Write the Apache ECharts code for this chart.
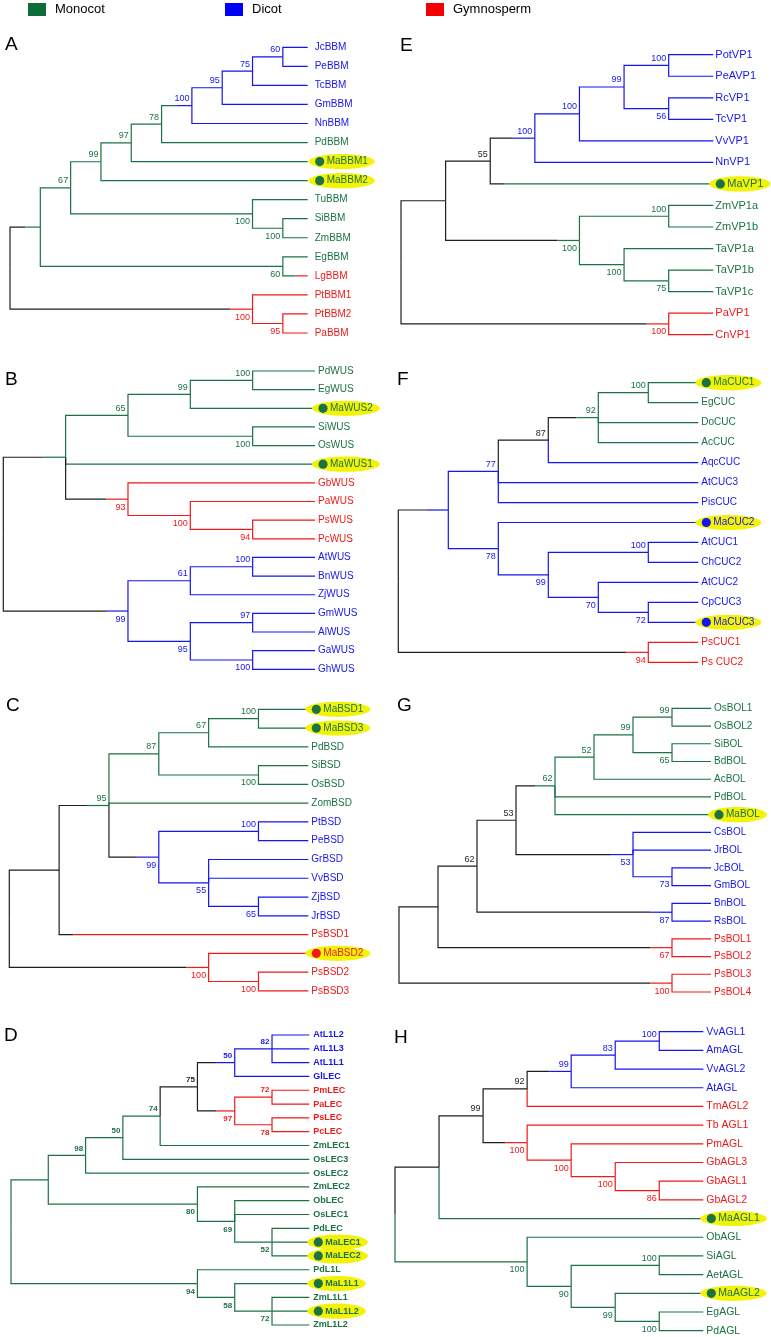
<!DOCTYPE html>
<html><head><meta charset="utf-8">
<script src="https://cdn.jsdelivr.net/npm/echarts@6/dist/echarts.min.js"></script>
<style>html,body{margin:0;padding:0;background:#fff}#c{width:771px;height:1337px}</style>
</head><body><div id="c"></div>
<script>
// ---------------- DATA ----------------
// Legend groups
const groupNames = ['Monocot', 'Dicot', 'Gymnosperm'];
// Panel letters (order: A, E, B, F, C, G, D, H)
const panelLetters = ['A', 'E', 'B', 'F', 'C', 'G', 'D', 'H'];
// Trees: "(children)|<group><bootstrap><v=label below>:<node level>[^<parent-side group>]"
// leaves: "Name|<group>[*=highlighted][^<parent-side group>]"; g=monocot b=dicot r=gymnosperm k=unassigned
const treeA = "((((((((((JcBBM|b,PeBBM|b)|b60:9,TcBBM|b)|b75:8,GmBBM|b)|b95:7,NnBBM|b)|b100:6,PdBBM|g)|g78:5,MaBBM1|g*)|g97:4,MaBBM2|g*)|g99:3,(TuBBM|g,(SiBBM|g,ZmBBM|g)|g100v:9)|g100v:8)|g67:2,(EgBBM|g,LgBBM|r)|g60v:9)|g:1,(PtBBM1|r,(PtBBM2|r,PaBBM|r)|r95v:9)|r100v:8)|k:0";
const treeE = "(((((((PotVP1|b,PeAVP1|b)|b100:6,(RcVP1|b,TcVP1|b)|b56v:6)|b99:5,VvVP1|b)|b100:4,NnVP1|b)|b100:3,MaVP1|g*)|k55:2,((ZmVP1a|g,ZmVP1b|g)|g100:6,(TaVP1a|g,(TaVP1b|g,TaVP1c|g)|g75v:6)|g100v:5)|g100v:4)|k:1,(PaVP1|r,CnVP1|r)|r100v:6)|k:0";
const treeB = "(((((PdWUS|g,EgWUS|g)|g100:4,MaWUS2|g*)|g99:3,(SiWUS|g,OsWUS|g)|g100v:4)|g65:2,MaWUS1|g*,(GbWUS|r,(PaWUS|r,(PsWUS|r,PcWUS|r)|r94v:4)|r100v:3)|r93v:2^k)|g:1,(((AtWUS|b,BnWUS|b)|b100:4,ZjWUS|b)|b61:3,((GmWUS|b,AlWUS|b)|b97:4,(GaWUS|b,GhWUS|b)|b100v:4)|b95v:3)|b99v:2)|k:0";
const treeF = "((((((MaCUC1|g*,EgCUC|g)|g100:5,DoCUC|g,AcCUC|g)|g92:4,AqcCUC|b^b)|k87:3^k,AtCUC3|b,PisCUC|b)|b77:2,(MaCUC2|b*,((AtCUC1|b,ChCUC2|b)|b100:5,(AtCUC2|b,(CpCUC3|b,MaCUC3|b*)|b72v:5)|b70v:4)|b99v:3)|b78v:2)|b:1,(PsCUC1|r,Ps CUC2|r)|r94v:5)|k:0";
const treeC = "((((((MaBSD1|g*,MaBSD3|g*)|g100:5,PdBSD|g)|g67:4,(SiBSD|g,OsBSD|g)|g100v:5)|g87:3,ZomBSD|g,((PtBSD|b,PeBSD|b)|b100:5,(GrBSD|b,VvBSD|b,(ZjBSD|b,JrBSD|b)|b65v:5)|b55v:4)|b99v:3^k)|g95:2,PsBSD1|r)|k:1,(MaBSD2|r*,(PsBSD2|r,PsBSD3|r)|r100v:5)|r100v:4)|k:0";
const treeG = "((((((((OsBOL1|g,OsBOL2|g)|g99:7,(SiBOL|g,BdBOL|g)|g65v:7)|g99:6,AcBOL|g)|g52:5,PdBOL|g,MaBOL|g*)|g62:4,(CsBOL|b,JrBOL|b,(JcBOL|b,GmBOL|b)|b73v:7)|b53v:6)|k53:3,(BnBOL|b,RsBOL|b)|b87v:7)|k62:2,(PsBOL1|r,PsBOL2|r)|r67v:7)|k:1,(PsBOL3|r,PsBOL4|r)|r100v:7)|k:0";
const treeD = "((((((((AtL1L2|b,AtL1L3|b,AtL1L1|b)|b82:7,GlLEC|b)|b50:6,((PmLEC|r,PaLEC|r)|r72:7,(PsLEC|r,PcLEC|r)|r78v:7)|r97v:6)|k75:5^k,ZmLEC1|g)|g74:4,OsLEC3|g)|g50:3,OsLEC2|g)|g98:2,(ZmLEC2|g,(ObLEC|g,OsLEC1|g,(PdLEC|g,MaLEC1|g*,MaLEC2|g*)|g52v:7)|g69v:6)|g80v:5)|g:1,(PdL1L|g,(MaL1L1|g*,(ZmL1L1|g,MaL1L2|g*,ZmL1L2|g)|g72v:7)|g58v:6)|g94v:5)|g:0";
const treeH = "(((((((VvAGL1|b,AmAGL|b)|b100:6,VvAGL2|b)|b83:5,AtAGL|b)|b99:4,TmAGL2|r^r)|k92:3,(Tb AGL1|r,(PmAGL|r,(GbAGL3|r,(GbAGL1|r,GbAGL2|r)|r86v:6)|r100v:5)|r100v:4)|r100v:3)|k99:2,MaAGL1|g*^g)|k:1,(ObAGL|g,((SiAGL|g,AetAGL|g)|g100:6,(MaAGL2|g*,(EgAGL|g,PdAGL|g)|g100v:6)|g99v:5)|g90v:4)|g100v:3^g)|k:0";
const trees = [treeA, treeE, treeB, treeF, treeC, treeG, treeD, treeH];
// level at which the leaf tips sit, per panel
const leafDepths = [9.82, 7, 5, 6, 6, 8, 8, 7];

// ---------------- STYLE / LAYOUT ----------------
const COLORS = {g: '#1b7243', b: '#1515ee', r: '#f01818', k: '#1e1e1e'};
const LEGEND_COLORS = ['#0b6f37', '#0000f5', '#f50000'];
const HL = '#f3f30a';
const FONT = '"Liberation Sans", Arial, sans-serif';
const LAYOUT = [
  {root: 10, tip: 307.7, y0: 47.3, y1: 333, font: 10, boot: 9, gap: 7, w: 'normal', lx: 5, ly: 35},
  {root: 401, tip: 713.3, y0: 54.7, y1: 334.7, font: 11, boot: 9, gap: 2, w: 'normal', lx: 400, ly: 36},
  {root: 3.3, tip: 315, y0: 371, y1: 669.3, font: 10, boot: 9, gap: 3, w: 'normal', lx: 5, ly: 370},
  {root: 398.3, tip: 698.3, y0: 382.7, y1: 662.3, font: 10, boot: 9, gap: 3, w: 'normal', lx: 397, ly: 370},
  {root: 9.3, tip: 308.3, y0: 709.3, y1: 990.9, font: 10, boot: 9, gap: 3, w: 'normal', lx: 6, ly: 696},
  {root: 399, tip: 711, y0: 708.3, y1: 992, font: 10, boot: 9, gap: 3, w: 'normal', lx: 397, ly: 696},
  {root: 11, tip: 309.3, y0: 1035, y1: 1325, font: 9, boot: 8, gap: 4, w: 'bold', lx: 4, ly: 1026},
  {root: 395, tip: 703.3, y0: 1031.7, y1: 1330.7, font: 10.5, boot: 9, gap: 3, w: 'normal', lx: 394, ly: 1028}
];

// ---------------- PARSING ----------------
function parseTree(str) {
  let i = 0;
  function node() {
    const n = {children: []};
    if (str[i] === '(') {
      i++;
      n.children.push(node());
      while (str[i] === ',') { i++; n.children.push(node()); }
      i++;
    }
    const s = i;
    while (i < str.length && str[i] !== ',' && str[i] !== ')') i++;
    const parts = str.slice(s, i).split('|');
    if (n.children.length) {
      const m = parts[1].match(/^([gbrk])(\d*)(v?):([\d.]+)(?:\^([gbrk]))?$/);
      n.color = m[1]; n.label = m[2]; n.below = !!m[3]; n.depth = +m[4]; n.base = m[5] || null;
    } else {
      const m = parts[1].match(/^([gbrk])(\*?)(?:\^([gbrk]))?$/);
      n.name = parts[0]; n.color = m[1]; n.hl = !!m[2]; n.base = m[3] || null;
    }
    return n;
  }
  return node();
}
function flatten(root, leafDepth) {
  const items = []; let leaf = 0;
  (function walk(n, parent) {
    n.parent = parent;
    if (!n.children.length) { n.y = leaf++; n.depth = leafDepth; }
    else {
      n.children.forEach(c => walk(c, n));
      n.y = (n.children[0].y + n.children[n.children.length - 1].y) / 2;
    }
    items.push(n);
  })(root, null);
  return {items, nLeaves: leaf};
}
const measureCtx = document.createElement('canvas').getContext('2d');
function textWidth(t, size, weight) {
  measureCtx.font = weight + ' ' + size + 'px ' + FONT;
  return measureCtx.measureText(t).width;
}

// ---------------- CHART ----------------
const grids = [], xAxes = [], yAxes = [], series = [], titles = [];
trees.forEach((str, pi) => {
  const L = LAYOUT[pi];
  const {items, nLeaves} = flatten(parseTree(str), leafDepths[pi]);
  grids.push({left: L.root, top: L.y0, width: L.tip - L.root, height: L.y1 - L.y0});
  xAxes.push({type: 'value', gridIndex: pi, min: 0, max: leafDepths[pi], show: false});
  yAxes.push({type: 'value', gridIndex: pi, min: 0, max: nLeaves - 1, inverse: true, show: false});
  titles.push({text: panelLetters[pi], left: L.lx, top: L.ly, padding: 0,
    textStyle: {fontSize: 19, fontWeight: 'normal', color: '#000', fontFamily: FONT}});
  series.push({
    type: 'custom', coordinateSystem: 'cartesian2d', xAxisIndex: pi, yAxisIndex: pi,
    silent: true, animation: false, clip: false,
    data: items.map(n => [n.depth, n.y, n.parent ? n.parent.depth : n.depth, n.parent ? n.parent.y : n.y]),
    renderItem: function (params, api) {
      const n = items[params.dataIndex];
      const p = api.coord([api.value(0), api.value(1)]);
      const els = [];
      const own = COLORS[n.color];
      if (n.parent) {
        const q = api.coord([api.value(2), api.value(3)]);
        const base = COLORS[n.base || n.parent.color];
        const corner = [q[0], p[1]];
        if (base === own) {
          els.push({type: 'polyline', shape: {points: [q, corner, p]}, style: {stroke: own, fill: null, lineWidth: 1.2}});
        } else {
          const len = p[0] - q[0];
          const t = n.children.length ? p[0] - Math.min(0.5 * len, 22) : q[0] + Math.min(0.5 * len, 14);
          els.push({type: 'polyline', shape: {points: [q, corner, [t, p[1]]]}, style: {stroke: base, fill: null, lineWidth: 1.2}});
          els.push({type: 'line', shape: {x1: t, y1: p[1], x2: p[0], y2: p[1]}, style: {stroke: own, lineWidth: 1.2}});
        }
      }
      if (!n.children.length) {
        let tx = p[0] + L.gap;
        if (n.hl) {
          const tw = textWidth(n.name, L.font, L.w);
          const left = p[0] + L.gap - 6, right = p[0] + L.gap + 12 + tw + 7;
          els.push({type: 'ellipse', shape: {cx: (left + right) / 2, cy: p[1], rx: (right - left) / 2, ry: 7.6}, style: {fill: HL}});
          els.push({type: 'circle', shape: {cx: p[0] + L.gap + 5, cy: p[1], r: 4.6}, style: {fill: own}});
          tx += 12;
        }
        els.push({type: 'text', style: {text: n.name, x: tx, y: p[1], fill: own, fontSize: L.font, fontWeight: L.w,
          fontFamily: FONT, align: 'left', verticalAlign: 'middle'}});
      } else if (n.label) {
        els.push({type: 'text', style: {text: n.label, x: p[0] - 2.5, y: p[1] + (n.below ? 8 : -7), fill: own,
          fontSize: L.boot, fontWeight: L.w, fontFamily: FONT, align: 'right', verticalAlign: 'middle'}});
      }
      return {type: 'group', children: els};
    }
  });
});
groupNames.forEach((name, i) => {
  series.push({type: 'scatter', name: name, data: [], xAxisIndex: 0, yAxisIndex: 0,
    itemStyle: {color: LEGEND_COLORS[i], opacity: 1}});
});
const legendLeft = [28, 225, 426];
const option = {
  animation: false,
  title: titles,
  legend: groupNames.map((name, i) => ({
    data: [name], left: legendLeft[i], top: 3, padding: 0, icon: 'rect', itemWidth: 18, itemHeight: 13,
    selectedMode: false, itemStyle: {opacity: 1},
    textStyle: {fontSize: 13, color: '#000', fontFamily: FONT, padding: [0, 0, 0, 4]}
  })),
  grid: grids, xAxis: xAxes, yAxis: yAxes, series: series
};
const chart = echarts.init(document.getElementById('c'), null, {renderer: 'canvas'});
chart.setOption(option);
</script></body></html>
